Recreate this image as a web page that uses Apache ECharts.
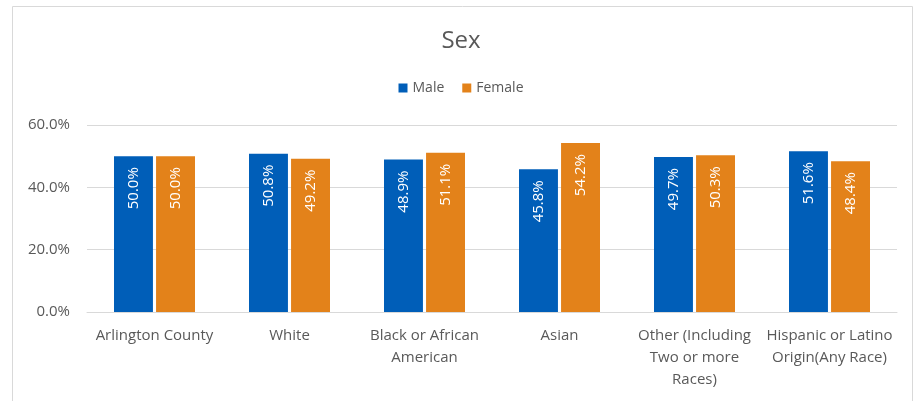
<!DOCTYPE html>
<html>
<head>
<meta charset="utf-8">
<script src="https://cdn.jsdelivr.net/npm/echarts@6/dist/echarts.min.js"></script>
<style>
html,body{margin:0;padding:0;background:#fff;}
#chart{width:922px;height:401px;}
</style>
</head>
<body>
<div id="chart"></div>
<script>
var categories = ["Arlington County", "White", "Black or African\nAmerican", "Asian", "Other (Including\nTwo or more\nRaces)", "Hispanic or Latino\nOrigin(Any Race)"];
var male = [50.0, 50.8, 48.9, 45.8, 49.7, 51.6];
var female = [50.0, 49.2, 51.1, 54.2, 50.3, 48.4];
var yTicks = [0, 20, 40, 60];

var FONT = "Open Sans";
var chart = echarts.init(document.getElementById('chart'));
var labelCfg = {
  show: true, position: 'insideTop', rotate: 90, align: 'right', verticalAlign: 'middle',
  distance: 11, color: '#ffffff', fontFamily: FONT, fontSize: 15,
  formatter: function(p){ return p.value.toFixed(1) + '%'; }
};
chart.setOption({
  animation: false,
  textStyle: { fontFamily: FONT },
  graphic: [{ type: 'rect', shape: { x: 12.5, y: 6.5, width: 900, height: 430 },
    style: { fill: 'none', stroke: '#d9d9d9', lineWidth: 1 }, silent: true }],
  title: { text: 'Sex', left: 'center', top: 24,
    textStyle: { fontFamily: FONT, fontSize: 24, fontWeight: 'normal', color: '#595959' } },
  legend: { top: 76, left: 'center', itemWidth: 9, itemHeight: 9, itemGap: 18, icon: 'rect',
    textStyle: { fontFamily: FONT, fontSize: 14, color: '#595959' }, data: ['Male', 'Female'] },
  grid: { left: 87, right: 25, top: 125, bottom: 89, containLabel: false },
  xAxis: { type: 'category', data: categories,
    axisLine: { lineStyle: { color: '#d9d9d9' } }, axisTick: { show: false },
    axisLabel: { interval: 0, color: '#595959', fontFamily: FONT, fontSize: 15, lineHeight: 22, margin: 13 } },
  yAxis: { type: 'value', min: yTicks[0], max: yTicks[yTicks.length-1], interval: 20,
    axisLabel: { color: '#595959', fontFamily: FONT, fontSize: 15, margin: 17,
      formatter: function(v){ return v.toFixed(1) + '%'; } },
    splitLine: { lineStyle: { color: '#d9d9d9' } }, axisLine: { show: false }, axisTick: { show: false } },
  series: [
    { name: 'Male', type: 'bar', data: male, itemStyle: { color: '#005EB8' },
      barGap: '8%', barCategoryGap: '40%', label: labelCfg },
    { name: 'Female', type: 'bar', data: female, itemStyle: { color: '#E3821A' },
      label: labelCfg }
  ]
});
</script>
</body>
</html>
